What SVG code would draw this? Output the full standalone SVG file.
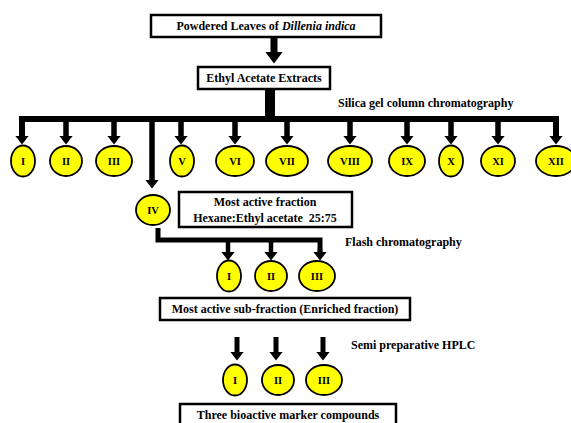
<svg xmlns="http://www.w3.org/2000/svg" width="571" height="423" viewBox="0 0 571 423">
<defs>
<style>
.box{fill:#fff;stroke:#000;stroke-width:2.5}
.t{font-family:"Liberation Serif","Times New Roman",serif;font-weight:bold;font-size:12px;fill:#000;text-anchor:middle}
.lbl{font-family:"Liberation Serif","Times New Roman",serif;font-weight:bold;font-size:12px;fill:#000}
.el{fill:#ffff00;stroke:#000;stroke-width:1.8}
.et{font-family:"Liberation Serif","Times New Roman",serif;font-weight:bold;font-size:10.5px;fill:#000;text-anchor:middle}
.c{stroke:#000;fill:none}
</style>
<marker id="ah" markerUnits="userSpaceOnUse" markerWidth="10" markerHeight="14" refX="0.5" refY="7" orient="auto"><path d="M0,0 L9,7 L0,14 z" fill="#000"/></marker>
<marker id="ahb" markerUnits="userSpaceOnUse" markerWidth="13" markerHeight="18" refX="0.5" refY="9" orient="auto"><path d="M0,0 L12,9 L0,18 z" fill="#000"/></marker>
</defs>
<rect width="571" height="423" fill="#fff"/>
<g id="connectors">
<line class="c" x1="274" y1="38" x2="274" y2="52" stroke-width="7" marker-end="url(#ahb)"/>
<line class="c" x1="270" y1="90" x2="270" y2="120" stroke-width="10"/>
<polyline class="c" points="22,136 22,119 556,119 556,136" stroke-width="6"/>
<g stroke-width="5.5">
<line class="c" x1="66" y1="119" x2="66" y2="136" marker-end="url(#ah)"/>
<line class="c" x1="114" y1="119" x2="114" y2="136" marker-end="url(#ah)"/>
<line class="c" x1="152" y1="119" x2="152" y2="180" marker-end="url(#ah)"/>
<line class="c" x1="181" y1="119" x2="181" y2="136" marker-end="url(#ah)"/>
<line class="c" x1="235" y1="119" x2="235" y2="136" marker-end="url(#ah)"/>
<line class="c" x1="287" y1="119" x2="287" y2="136" marker-end="url(#ah)"/>
<line class="c" x1="350" y1="119" x2="350" y2="136" marker-end="url(#ah)"/>
<line class="c" x1="407" y1="119" x2="407" y2="136" marker-end="url(#ah)"/>
<line class="c" x1="451" y1="119" x2="451" y2="136" marker-end="url(#ah)"/>
<line class="c" x1="498" y1="119" x2="498" y2="136" marker-end="url(#ah)"/>
<line class="c" x1="22" y1="130" x2="22" y2="136" marker-end="url(#ah)"/>
<line class="c" x1="556" y1="130" x2="556" y2="136" marker-end="url(#ah)"/>
</g>
<polyline class="c" points="158,228 158,240 320,240 320,252" stroke-width="5"/>
<g stroke-width="4.5">
<line class="c" x1="228" y1="240" x2="228" y2="252" marker-end="url(#ah)"/>
<line class="c" x1="271" y1="240" x2="271" y2="252" marker-end="url(#ah)"/>
<line class="c" x1="320" y1="248" x2="320" y2="252" marker-end="url(#ah)"/>
</g>
<g stroke-width="5">
<line class="c" x1="237" y1="337" x2="237" y2="352" marker-end="url(#ah)"/>
<line class="c" x1="276" y1="337" x2="276" y2="352" marker-end="url(#ah)"/>
<line class="c" x1="323" y1="337" x2="323" y2="352" marker-end="url(#ah)"/>
</g>
</g>
<g id="n_powder"><rect class="box" x="151" y="15" width="230" height="22"/><text class="t" x="266" y="30">Powdered Leaves of <tspan font-style="italic">Dillenia indica</tspan></text></g>
<g id="n_ethyl"><rect class="box" x="198" y="67" width="132" height="22"/><text class="t" x="264" y="82">Ethyl Acetate Extracts</text></g>
<text class="lbl" x="338" y="107">Silica gel column chromatography</text>
<g id="f1"><ellipse class="el" cx="23" cy="161" rx="12" ry="15.5"/><text class="et" x="23" y="164.5">I</text></g>
<g id="f2"><ellipse class="el" cx="66" cy="161" rx="16" ry="15"/><text class="et" x="66" y="164.5">II</text></g>
<g id="f3"><ellipse class="el" cx="114" cy="161" rx="18" ry="15"/><text class="et" x="114" y="164.5">III</text></g>
<g id="f5"><ellipse class="el" cx="182" cy="161" rx="12" ry="15.5"/><text class="et" x="182" y="164.5">V</text></g>
<g id="f6"><ellipse class="el" cx="235" cy="161" rx="19" ry="15"/><text class="et" x="235" y="164.5">VI</text></g>
<g id="f7"><ellipse class="el" cx="287" cy="161" rx="21" ry="15"/><text class="et" x="287" y="164.5">VII</text></g>
<g id="f8"><ellipse class="el" cx="350" cy="161" rx="22" ry="15"/><text class="et" x="350" y="164.5">VIII</text></g>
<g id="f9"><ellipse class="el" cx="407" cy="161" rx="18" ry="15"/><text class="et" x="407" y="164.5">IX</text></g>
<g id="f10"><ellipse class="el" cx="451" cy="161" rx="12" ry="15.5"/><text class="et" x="451" y="164.5">X</text></g>
<g id="f11"><ellipse class="el" cx="498" cy="161" rx="17" ry="15"/><text class="et" x="498" y="164.5">XI</text></g>
<g id="f12"><ellipse class="el" cx="556" cy="161" rx="20" ry="15"/><text class="et" x="556" y="164.5">XII</text></g>
<g id="f4"><ellipse class="el" cx="153" cy="210" rx="17" ry="15"/><text class="et" x="153" y="213.5">IV</text></g>
<g id="n_most"><rect class="box" x="179" y="192" width="173" height="35"/><text class="t" x="265" y="206">Most active fraction</text><text class="t" x="265" y="222">Hexane:Ethyl acetate&#160; 25:75</text></g>
<text class="lbl" x="345" y="246">Flash chromatography</text>
<g id="s1"><ellipse class="el" cx="229" cy="276" rx="12" ry="15.5"/><text class="et" x="229" y="279.5">I</text></g>
<g id="s2"><ellipse class="el" cx="271" cy="276" rx="16" ry="15"/><text class="et" x="271" y="279.5">II</text></g>
<g id="s3"><ellipse class="el" cx="317" cy="276" rx="18" ry="15"/><text class="et" x="317" y="279.5">III</text></g>
<g id="n_sub"><rect class="box" x="160" y="298" width="250" height="22"/><text class="t" x="285" y="313">Most active sub-fraction (Enriched fraction)</text></g>
<text class="lbl" x="351" y="349">Semi preparative HPLC</text>
<g id="h1"><ellipse class="el" cx="235" cy="380" rx="12" ry="15.5"/><text class="et" x="235" y="383.5">I</text></g>
<g id="h2"><ellipse class="el" cx="278" cy="380" rx="16" ry="15"/><text class="et" x="278" y="383.5">II</text></g>
<g id="h3"><ellipse class="el" cx="324" cy="380" rx="18" ry="15"/><text class="et" x="324" y="383.5">III</text></g>
<g id="n_three"><rect class="box" x="180" y="404" width="216" height="26"/><text class="t" x="288" y="419">Three bioactive marker compounds</text></g>
</svg>
